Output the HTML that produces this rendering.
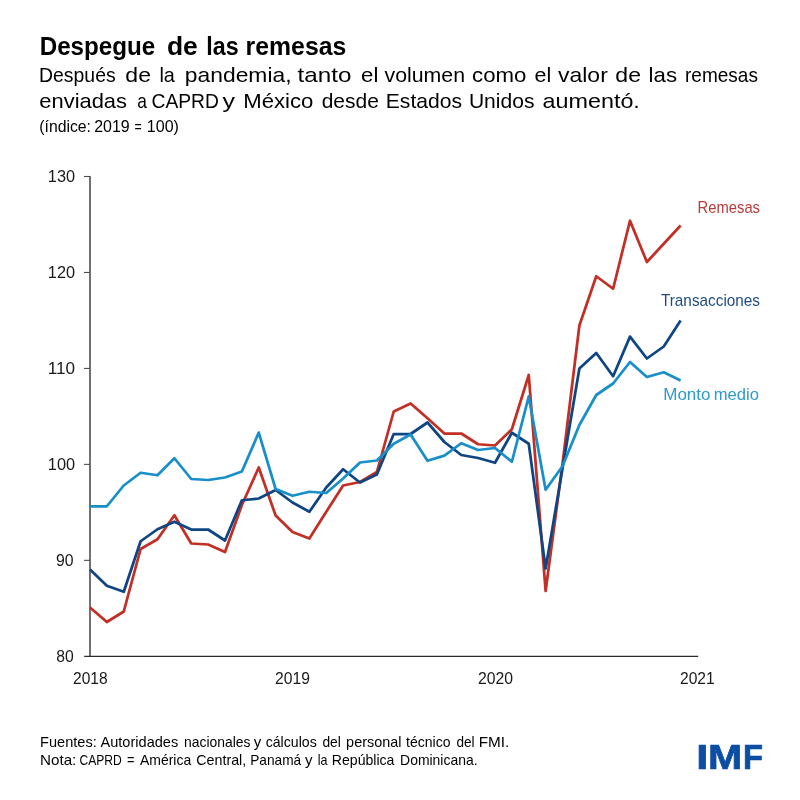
<!DOCTYPE html>
<html lang="es">
<head>
<meta charset="utf-8">
<title>Despegue de las remesas</title>
<style>
html,body{margin:0;padding:0;background:#fff;}
body{width:800px;height:800px;overflow:hidden;}
svg{display:block;font-family:"Liberation Sans", Arial, Helvetica, sans-serif;}
</style>
</head>
<body>
<svg width="800" height="800" viewBox="0 0 800 800">
<rect width="800" height="800" fill="#ffffff"/>
<g fill="none">
<line x1="90" y1="176" x2="90" y2="657" stroke="#4d4d4d" stroke-width="1.6"/>
<line x1="84" y1="560.34" x2="90" y2="560.34" stroke="#4d4d4d" stroke-width="1.1"/>
<line x1="84" y1="464.38" x2="90" y2="464.38" stroke="#4d4d4d" stroke-width="1.1"/>
<line x1="84" y1="368.42" x2="90" y2="368.42" stroke="#4d4d4d" stroke-width="1.1"/>
<line x1="84" y1="272.46" x2="90" y2="272.46" stroke="#4d4d4d" stroke-width="1.1"/>
<line x1="84" y1="176.50" x2="90" y2="176.50" stroke="#4d4d4d" stroke-width="1.1"/>
<line x1="84.2" y1="656.3" x2="698.2" y2="656.3" stroke="#2b2b2b" stroke-width="1.25"/>
</g>
<g fill="none" stroke-width="2.75" stroke-linejoin="round" stroke-linecap="butt">
<polyline stroke="#c22f25" points="90.00,607.50 106.88,622.00 123.75,611.50 140.62,549.00 157.50,539.25 174.38,515.25 191.25,543.50 208.12,544.50 225.00,552.00 241.88,505.00 258.75,467.50 275.62,515.50 292.50,532.00 309.38,538.50 326.25,511.75 343.12,485.50 360.00,482.00 376.88,472.00 393.75,411.50 410.62,403.50 427.50,418.25 444.38,433.50 461.25,433.50 478.12,444.25 495.00,445.50 511.88,429.25 528.75,375.00 545.62,591.00 562.50,464.00 579.38,325.50 596.25,276.25 613.12,288.75 630.00,220.75 646.88,262.00 663.75,243.75 680.62,225.50"/>
<polyline stroke="#0e4582" points="90.00,569.50 106.88,585.75 123.75,591.75 140.62,541.25 157.50,529.25 174.38,521.75 191.25,529.50 208.12,529.50 225.00,540.50 241.88,500.25 258.75,498.50 275.62,490.00 292.50,502.50 309.38,511.75 326.25,487.50 343.12,469.25 360.00,482.50 376.88,474.50 393.75,434.00 410.62,434.00 427.50,422.50 444.38,442.00 461.25,455.00 478.12,458.00 495.00,462.75 511.88,432.75 528.75,443.75 545.62,568.50 562.50,468.50 579.38,368.50 596.25,353.00 613.12,376.25 630.00,336.60 646.88,358.50 663.75,346.50 680.62,320.60"/>
<polyline stroke="#188fc9" points="90.00,506.25 106.88,506.25 123.75,485.50 140.62,472.75 157.50,475.25 174.38,458.25 191.25,479.00 208.12,480.00 225.00,477.50 241.88,471.50 258.75,432.60 275.62,489.00 292.50,495.75 309.38,491.75 326.25,493.00 343.12,478.50 360.00,462.50 376.88,460.50 393.75,443.75 410.62,434.50 427.50,460.75 444.38,455.60 461.25,443.25 478.12,450.00 495.00,448.00 511.88,461.75 528.75,396.50 545.62,489.75 562.50,466.25 579.38,425.00 596.25,395.00 613.12,383.50 630.00,362.00 646.88,377.00 663.75,372.25 680.62,380.60"/>
</g>
<text id="title" y="55.0" font-size="25.0" fill="#000" font-weight="bold"><tspan x="39.68" textLength="115.58" lengthAdjust="spacingAndGlyphs">Despegue</tspan> <tspan x="166.94" textLength="30.88" lengthAdjust="spacingAndGlyphs">de</tspan> <tspan x="206.24" textLength="32.35" lengthAdjust="spacingAndGlyphs">las</tspan> <tspan x="245.59" textLength="100.71" lengthAdjust="spacingAndGlyphs">remesas</tspan></text>
<text id="sub1" y="82.4" font-size="21.1" fill="#000"><tspan x="39.05" textLength="76.63" lengthAdjust="spacingAndGlyphs">Después</tspan> <tspan x="125.33" textLength="25.62" lengthAdjust="spacingAndGlyphs">de</tspan> <tspan x="159.46" textLength="15.47" lengthAdjust="spacingAndGlyphs">la</tspan> <tspan x="184.88" textLength="106.63" lengthAdjust="spacingAndGlyphs">pandemia,</tspan> <tspan x="297.64" textLength="53.86" lengthAdjust="spacingAndGlyphs">tanto</tspan> <tspan x="361.11" textLength="17.27" lengthAdjust="spacingAndGlyphs">el</tspan> <tspan x="384.5" textLength="80.55" lengthAdjust="spacingAndGlyphs">volumen</tspan> <tspan x="472.11" textLength="54.3" lengthAdjust="spacingAndGlyphs">como</tspan> <tspan x="534.64" textLength="16.69" lengthAdjust="spacingAndGlyphs">el</tspan> <tspan x="558.0" textLength="49.8" lengthAdjust="spacingAndGlyphs">valor</tspan> <tspan x="615.33" textLength="25.62" lengthAdjust="spacingAndGlyphs">de</tspan> <tspan x="648.55" textLength="28.48" lengthAdjust="spacingAndGlyphs">las</tspan> <tspan x="685.01" textLength="72.9" lengthAdjust="spacingAndGlyphs">remesas</tspan></text>
<text id="sub2" y="108.3" font-size="21.1" fill="#000"><tspan x="39.32" textLength="87.69" lengthAdjust="spacingAndGlyphs">enviadas</tspan> <tspan x="137.31" textLength="9.63" lengthAdjust="spacingAndGlyphs">a</tspan> <tspan x="151.54" textLength="67.37" lengthAdjust="spacingAndGlyphs">CAPRD</tspan> <tspan x="222.5" textLength="12.5" lengthAdjust="spacingAndGlyphs">y</tspan> <tspan x="243.23" textLength="70.18" lengthAdjust="spacingAndGlyphs">México</tspan> <tspan x="321.66" textLength="57.2" lengthAdjust="spacingAndGlyphs">desde</tspan> <tspan x="385.81" textLength="76.17" lengthAdjust="spacingAndGlyphs">Estados</tspan> <tspan x="468.92" textLength="65.57" lengthAdjust="spacingAndGlyphs">Unidos</tspan> <tspan x="542.57" textLength="97.28" lengthAdjust="spacingAndGlyphs">aumentó.</tspan></text>
<text id="idx" y="132.3" font-size="15.6" fill="#000"><tspan x="39.25" textLength="51.73" lengthAdjust="spacingAndGlyphs">(índice:</tspan> <tspan x="94.2" textLength="35.54" lengthAdjust="spacingAndGlyphs">2019</tspan> <tspan x="134.45" textLength="7.15" lengthAdjust="spacingAndGlyphs">=</tspan> <tspan x="146.8" textLength="32.14" lengthAdjust="spacingAndGlyphs">100)</tspan></text>
<text id="f1" y="746.7" font-size="14.4" fill="#000"><tspan x="40.08" textLength="56.7" lengthAdjust="spacingAndGlyphs">Fuentes:</tspan> <tspan x="100.5" textLength="77.71" lengthAdjust="spacingAndGlyphs">Autoridades</tspan> <tspan x="184.1" textLength="66.39" lengthAdjust="spacingAndGlyphs">nacionales</tspan> <tspan x="253.75" textLength="7.5" lengthAdjust="spacingAndGlyphs">y</tspan> <tspan x="265.68" textLength="51.06" lengthAdjust="spacingAndGlyphs">cálculos</tspan> <tspan x="322.45" textLength="18.41" lengthAdjust="spacingAndGlyphs">del</tspan> <tspan x="346.14" textLength="55.26" lengthAdjust="spacingAndGlyphs">personal</tspan> <tspan x="406.04" textLength="44.54" lengthAdjust="spacingAndGlyphs">técnico</tspan> <tspan x="456.46" textLength="18.14" lengthAdjust="spacingAndGlyphs">del</tspan> <tspan x="478.78" textLength="30.57" lengthAdjust="spacingAndGlyphs">FMI.</tspan></text>
<text id="f2" y="765.4" font-size="14.4" fill="#000"><tspan x="40.04" textLength="36.3" lengthAdjust="spacingAndGlyphs">Nota:</tspan> <tspan x="79.39" textLength="42.43" lengthAdjust="spacingAndGlyphs">CAPRD</tspan> <tspan x="126.93" textLength="7.45" lengthAdjust="spacingAndGlyphs">=</tspan> <tspan x="140.0" textLength="51.2" lengthAdjust="spacingAndGlyphs">América</tspan> <tspan x="196.29" textLength="49.97" lengthAdjust="spacingAndGlyphs">Central,</tspan> <tspan x="250.15" textLength="51.04" lengthAdjust="spacingAndGlyphs">Panamá</tspan> <tspan x="305.0" textLength="7.5" lengthAdjust="spacingAndGlyphs">y</tspan> <tspan x="317.78" textLength="9.77" lengthAdjust="spacingAndGlyphs">la</tspan> <tspan x="331.87" textLength="62.57" lengthAdjust="spacingAndGlyphs">República</tspan> <tspan x="400.09" textLength="77.44" lengthAdjust="spacingAndGlyphs">Dominicana.</tspan></text>
<text id="rem" y="212.9" font-size="15.7" fill="#b93a3a"><tspan x="697.62" textLength="62.4" lengthAdjust="spacingAndGlyphs">Remesas</tspan></text>
<text id="tra" y="306.0" font-size="15.7" fill="#214c80"><tspan x="660.94" textLength="99.09" lengthAdjust="spacingAndGlyphs">Transacciones</tspan></text>
<text id="mon" y="399.6" font-size="15.7" fill="#2e9acb"><tspan x="663.24" textLength="47.26" lengthAdjust="spacingAndGlyphs">Monto</tspan> <tspan x="713.72" textLength="45.26" lengthAdjust="spacingAndGlyphs">medio</tspan></text>
<text id="imf" y="769.15" font-size="34.8" fill="#0b4ea2" font-weight="bold" stroke="#0b4ea2" stroke-width="0.7"><tspan x="696.18" textLength="12.04" lengthAdjust="spacingAndGlyphs">I</tspan><tspan x="708.14" textLength="34.15" lengthAdjust="spacingAndGlyphs">M</tspan><tspan x="743.07" textLength="20.0" lengthAdjust="spacingAndGlyphs">F</tspan></text>
<text id="y80" y="661.5" font-size="15.8" fill="#1a1a1a"><tspan x="56.17" textLength="17.5" lengthAdjust="spacingAndGlyphs">80</tspan></text>
<text id="y90" y="565.54" font-size="15.8" fill="#1a1a1a"><tspan x="56.09" textLength="17.58" lengthAdjust="spacingAndGlyphs">90</tspan></text>
<text id="y100" y="469.58" font-size="15.8" fill="#1a1a1a"><tspan x="47.88" textLength="27.21" lengthAdjust="spacingAndGlyphs">100</tspan></text>
<text id="y110" y="373.62" font-size="15.8" fill="#1a1a1a"><tspan x="47.82" textLength="27.3" lengthAdjust="spacingAndGlyphs">110</tspan></text>
<text id="y120" y="277.66" font-size="15.8" fill="#1a1a1a"><tspan x="47.88" textLength="27.21" lengthAdjust="spacingAndGlyphs">120</tspan></text>
<text id="y130" y="181.7" font-size="15.8" fill="#1a1a1a"><tspan x="47.88" textLength="27.21" lengthAdjust="spacingAndGlyphs">130</tspan></text>
<text id="x2018" y="684.0" font-size="15.8" fill="#1a1a1a"><tspan x="73.02" textLength="34.62" lengthAdjust="spacingAndGlyphs">2018</tspan></text>
<text id="x2019" y="684.0" font-size="15.8" fill="#1a1a1a"><tspan x="275.02" textLength="34.91" lengthAdjust="spacingAndGlyphs">2019</tspan></text>
<text id="x2020" y="684.0" font-size="15.8" fill="#1a1a1a"><tspan x="478.01" textLength="35.06" lengthAdjust="spacingAndGlyphs">2020</tspan></text>
<text id="x2021" y="684.0" font-size="15.8" fill="#1a1a1a"><tspan x="680.02" textLength="34.7" lengthAdjust="spacingAndGlyphs">2021</tspan></text>
</svg>
</body>
</html>
